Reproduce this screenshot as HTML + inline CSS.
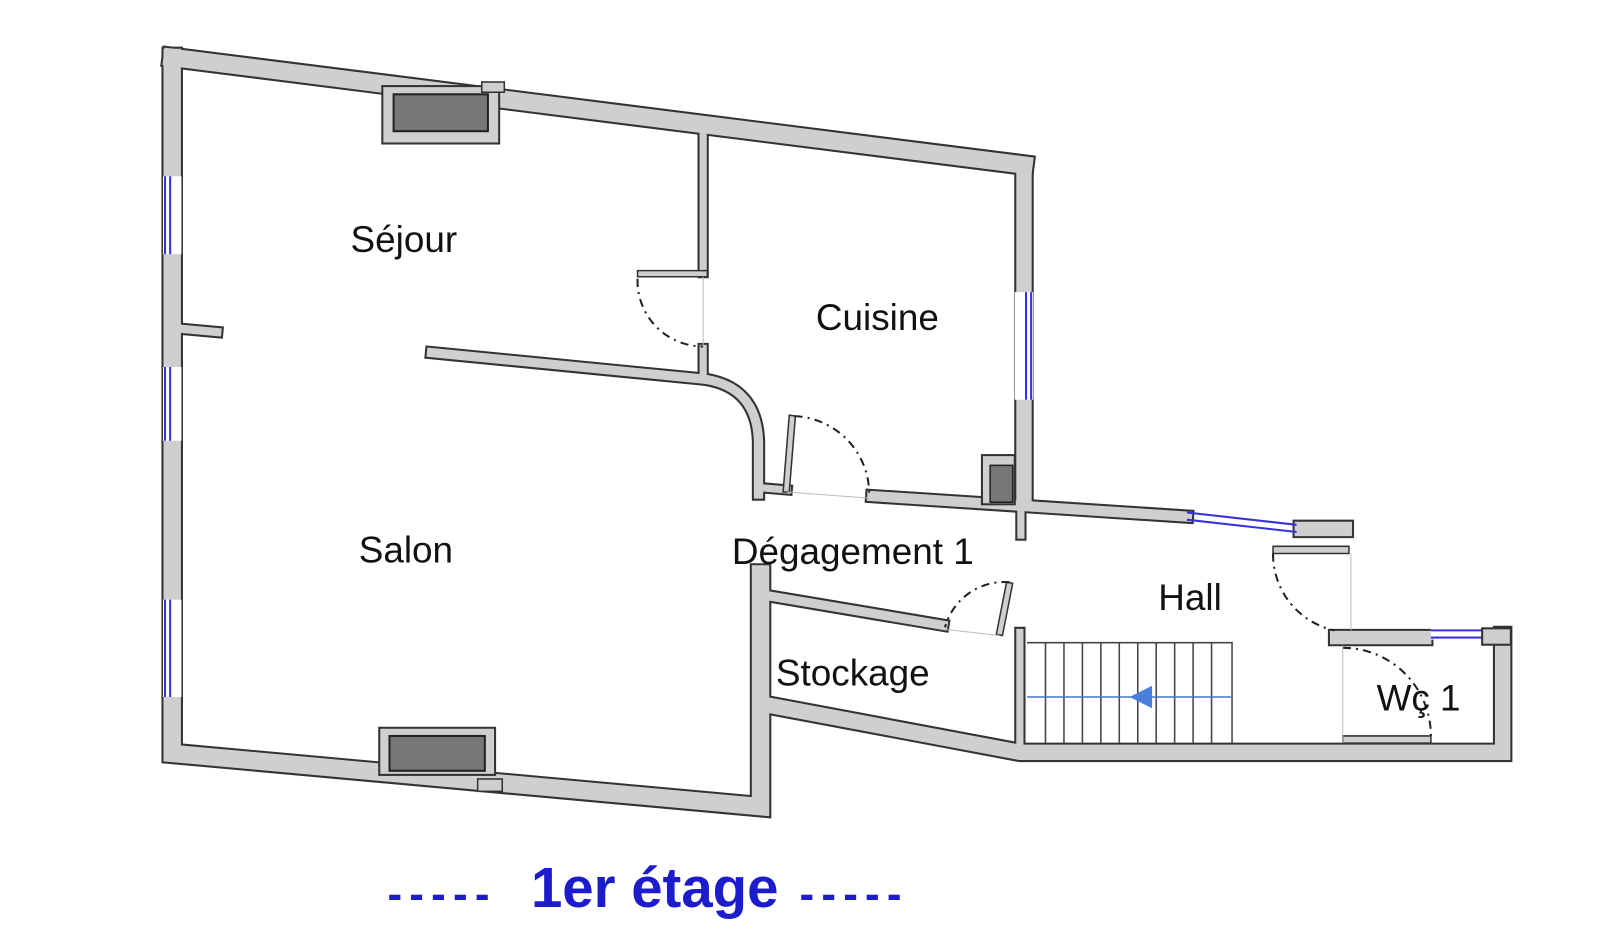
<!DOCTYPE html>
<html><head><meta charset="utf-8"><style>
html,body{margin:0;padding:0;background:#fff;}
svg{display:block;}
text{font-family:"Liberation Sans",sans-serif;}
</style></head><body>
<svg width="1600" height="951" viewBox="0 0 1600 951" xmlns="http://www.w3.org/2000/svg">
<g transform="scale(1.025)">
<g fill="none" stroke-linecap="square" stroke-linejoin="miter">
  <g stroke="#333">
    <polyline points="168,56 999,161" stroke-width="21"/>
    <polyline points="168,56 168,735 742,787 742,560" stroke-width="21"/>
    <polyline points="168,320 212,324" stroke-width="12"/>
    <polyline points="999,161 999,488" stroke-width="19"/>
    <polyline points="686,130 686,266" stroke-width="11"/>
    <polyline points="686,340 686,368" stroke-width="11"/>
    <path d="M421,344 L688,370 Q738,378 740,430 L740,482" stroke-width="13"/>
    <polyline points="744,476 768,478" stroke-width="11"/>
    <polyline points="851,484 1158,504" stroke-width="14"/>
    <polyline points="996,480 996,522" stroke-width="11"/>
    <polyline points="742,580 920,610" stroke-width="13"/>
    <polyline points="750,688 995,734 1466,734 1466,620" stroke-width="19"/>
    <polyline points="995,617 995,730" stroke-width="11"/>
    <polyline points="1304,622 1390,622" stroke-width="17"/>
    <polyline points="1270,516 1312,516" stroke-width="18"/>
  </g>
  <g stroke="#cfcfcf">
    <polyline points="168,56 999,161" stroke-width="17"/>
    <polyline points="168,56 168,735 742,787 742,560" stroke-width="17"/>
    <polyline points="168,320 212,324" stroke-width="8"/>
    <polyline points="999,161 999,488" stroke-width="15"/>
    <polyline points="686,130 686,266" stroke-width="7"/>
    <polyline points="686,340 686,368" stroke-width="7"/>
    <path d="M421,344 L688,370 Q738,378 740,430 L740,482" stroke-width="9"/>
    <polyline points="744,476 768,478" stroke-width="7"/>
    <polyline points="851,484 1158,504" stroke-width="10"/>
    <polyline points="996,480 996,522" stroke-width="7"/>
    <polyline points="742,580 920,610" stroke-width="9"/>
    <polyline points="750,688 995,734 1466,734 1466,620" stroke-width="15"/>
    <polyline points="995,617 995,730" stroke-width="7"/>
    <polyline points="1304,622 1390,622" stroke-width="13"/>
    <polyline points="1270,516 1312,516" stroke-width="14"/>
  </g>
</g>
<g>
  <rect x="159" y="172" width="18" height="76" fill="#fff"/>
  <rect x="159" y="358" width="18" height="72" fill="#fff"/>
  <rect x="159" y="585" width="18" height="95" fill="#fff"/>
  <g stroke="#3333dd" stroke-width="2">
    <line x1="161" y1="172" x2="161" y2="248"/><line x1="166" y1="172" x2="166" y2="248"/>
    <line x1="161" y1="358" x2="161" y2="430"/><line x1="166" y1="358" x2="166" y2="430"/>
    <line x1="161" y1="585" x2="161" y2="680"/><line x1="166" y1="585" x2="166" y2="680"/>
  </g>
  <rect x="990" y="285" width="18" height="105" fill="#fff"/>
  <line x1="1001" y1="285" x2="1001" y2="390" stroke="#3333dd" stroke-width="2"/>
  <line x1="1006" y1="285" x2="1006" y2="390" stroke="#3333dd" stroke-width="2"/>
  <line x1="1158" y1="500" x2="1265" y2="512" stroke="#3333dd" stroke-width="2"/>
  <line x1="1158" y1="507" x2="1265" y2="519" stroke="#3333dd" stroke-width="2"/>
  <rect x="1396" y="612" width="50" height="12" fill="#fff"/>
  <line x1="1396" y1="615" x2="1446" y2="615" stroke="#3333dd" stroke-width="2"/>
  <line x1="1396" y1="622" x2="1446" y2="622" stroke="#3333dd" stroke-width="2"/>
  <rect x="1446" y="613" width="28" height="16" fill="#cfcfcf" stroke="#333" stroke-width="2"/>
</g>
<rect x="373" y="84" width="114" height="56" fill="#cfcfcf" stroke="#333" stroke-width="2"/>
<rect x="384" y="92" width="92" height="36" fill="#777" stroke="#222" stroke-width="2"/>
<rect x="470" y="80" width="22" height="10" fill="#cfcfcf" stroke="#333" stroke-width="1.5"/>
<rect x="370" y="710" width="113" height="46" fill="#cfcfcf" stroke="#333" stroke-width="2"/>
<rect x="380" y="718" width="93" height="34" fill="#777" stroke="#222" stroke-width="2"/>
<rect x="466" y="760" width="24" height="12" fill="#cfcfcf" stroke="#333" stroke-width="1.5"/>
<rect x="958" y="444" width="32" height="48" fill="#cfcfcf" stroke="#333" stroke-width="2"/>
<rect x="966" y="454" width="22" height="36" fill="#777" stroke="#222" stroke-width="1.5"/>
<g fill="#cfcfcf" stroke="#333" stroke-width="1.5">
  <polygon points="622,264 690,264 690,270 622,270"/>
  <polygon points="770,405 776,406 770,480 764,480"/>
  <polygon points="982,568 988,569 978,620 972,619"/>
  <polygon points="1242,533 1316,533 1316,540 1242,540"/>
  <polygon points="1310,718 1396,718 1396,725 1310,725"/>
</g>
<g fill="none" stroke="#222" stroke-width="2" stroke-dasharray="8,5,2,5">
  <path d="M622,272 A64,64 0 0 0 686,338"/>
  <path d="M775,406 A76,76 0 0 1 848,484"/>
  <path d="M985,568 A60,60 0 0 0 922,612"/>
  <path d="M1242,540 A76,76 0 0 0 1302,615"/>
  <path d="M1310,632 A86,86 0 0 1 1396,718"/>
</g>
<g stroke="#bbb" stroke-width="1">
  <line x1="686" y1="270" x2="686" y2="338"/>
  <line x1="768" y1="480" x2="848" y2="486"/>
  <line x1="922" y1="614" x2="975" y2="620"/>
  <line x1="1318" y1="540" x2="1318" y2="615"/>
  <line x1="1310" y1="630" x2="1310" y2="725"/>
</g>
<g stroke="#444" stroke-width="1.5" fill="none">
  <polyline points="1002,627 1202,627 1202,725"/>
  <line x1="1020" y1="627" x2="1020" y2="725"/><line x1="1038" y1="627" x2="1038" y2="725"/>
  <line x1="1056" y1="627" x2="1056" y2="725"/><line x1="1074" y1="627" x2="1074" y2="725"/>
  <line x1="1092" y1="627" x2="1092" y2="725"/><line x1="1110" y1="627" x2="1110" y2="725"/>
  <line x1="1128" y1="627" x2="1128" y2="725"/><line x1="1146" y1="627" x2="1146" y2="725"/>
  <line x1="1164" y1="627" x2="1164" y2="725"/><line x1="1182" y1="627" x2="1182" y2="725"/>
</g>
<line x1="1002" y1="680" x2="1202" y2="680" stroke="#4477cc" stroke-width="1.5"/>
<polygon points="1102,680 1124,669 1124,691" fill="#4a80dd"/>
<g font-size="36" fill="#111">
  <text x="342" y="246">Séjour</text>
  <text x="796" y="322">Cuisine</text>
  <text x="350" y="549">Salon</text>
  <text x="714" y="550">Dégagement 1</text>
  <text x="1130" y="595">Hall</text>
  <text x="757" y="669">Stockage</text>
  <text x="1343" y="693">Wç 1</text>
</g>
<g fill="#1c1ccc" font-weight="bold">
  <text x="378" y="887" font-size="43" letter-spacing="7">-----</text>
  <text x="518" y="885" font-size="55">1er étage</text>
  <text x="780" y="887" font-size="43" letter-spacing="7">-----</text>
</g>
</g>
</svg>
</body></html>
